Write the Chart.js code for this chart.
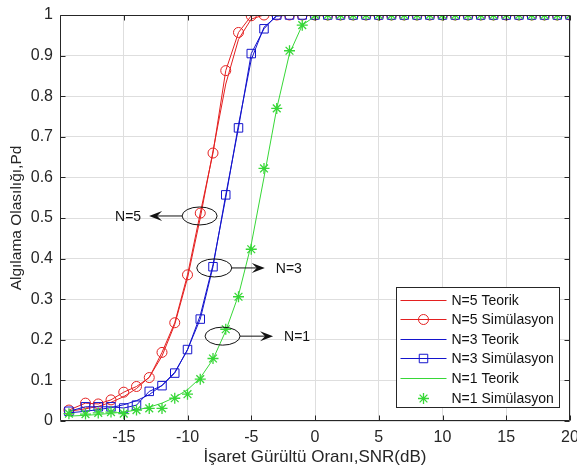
<!DOCTYPE html>
<html><head><meta charset="utf-8">
<script src="https://cdn.jsdelivr.net/npm/chart.js@4.4.1/dist/chart.umd.min.js"></script>
<style>html,body{margin:0;padding:0;background:#fff}#wrap{width:577px;height:470px;position:relative}</style>
</head><body><div id="wrap"><canvas id="c" width="577" height="470"></canvas></div>
<script>
// ---- data ----
const snr = [-19.3,-18,-17,-16,-15,-14,-13,-12,-11,-10,-9,-8,-7,-6,-5,-4,-3,-2,-1,0,1,2,3,4,5,6,7,8,9,10,11,12,13,14,15,16,17,18,19,20];
const n5Teorik = [0.024,0.030,0.036,0.046,0.060,0.080,0.108,0.160,0.238,0.352,0.500,0.665,0.830,0.940,0.990,1,1,1,1,1,1,1,1,1,1,1,1,1,1,1,1,1,1,1,1,1,1,1,1,1];
const n5Sim    = [0.027,0.044,0.042,0.052,0.071,0.085,0.107,0.169,0.242,0.360,0.512,0.660,0.863,0.957,0.998,1,1,1,1,1,1,1,1,1,1,1,1,1,1,1,1,1,1,1,1,1,1,1,1,1];
const n3Teorik = [0.020,0.024,0.028,0.033,0.040,0.050,0.065,0.088,0.120,0.175,0.260,0.385,0.550,0.730,0.890,0.970,0.997,1,1,1,1,1,1,1,1,1,1,1,1,1,1,1,1,1,1,1,1,1,1,1];
const n3Sim    = [0.024,0.035,0.035,0.035,0.032,0.039,0.073,0.087,0.118,0.176,0.251,0.380,0.557,0.722,0.905,0.966,1,1,1,1,1,1,1,1,1,1,1,1,1,1,1,1,1,1,1,1,1,1,1,1];
const n1Teorik = [0.012,0.014,0.016,0.019,0.022,0.027,0.034,0.044,0.058,0.077,0.106,0.152,0.222,0.310,0.435,0.600,0.770,0.905,0.975,0.997,1,1,1,1,1,1,1,1,1,1,1,1,1,1,1,1,1,1,1,1];
const n1Sim    = [0.018,0.017,0.020,0.022,0.018,0.027,0.031,0.031,0.056,0.066,0.103,0.154,0.226,0.306,0.423,0.622,0.770,0.912,0.975,1,1,1,1,1,1,1,1,1,1,1,1,1,1,1,1,1,1,1,1,1];
const seriesLabels = ['N=5 Teorik','N=5 Simülasyon','N=3 Teorik','N=3 Simülasyon','N=1 Teorik','N=1 Simülasyon'];
const xTicks = [-15,-10,-5,0,5,10,15,20];
const yTicks = [0,0.1,0.2,0.3,0.4,0.5,0.6,0.7,0.8,0.9,1];
const yTickLabels = ['0','0.1','0.2','0.3','0.4','0.5','0.6','0.7','0.8','0.9','1'];
const xTitle = 'İşaret Gürültü Oranı,SNR(dB)';
const yTitle = 'Algılama Olasılığı,Pd';
// annotation callouts: label, anchor (data coords) of ellipse, arrow direction
const callouts = [
  {text:'N=5', x:-9.05, y:0.505, dir:-1},
  {text:'N=3', x:-7.9,  y:0.377, dir:1},
  {text:'N=1', x:-7.25, y:0.209, dir:1}
];

// ---- styles ----
const RED = 'rgb(228,32,32)', BLUE = 'rgb(20,20,205)', GREEN = 'rgb(55,215,55)';
const SERIES_COLORS = [RED, RED, BLUE, BLUE, GREEN, GREEN];
const AX = '#262626';
const FONT = "'Liberation Sans', Arial, Helvetica, sans-serif";

function pts(ys){ return snr.map((x,i)=>({x:x, y:ys[i]})); }

const datasets = [
  {label:seriesLabels[0], data:pts(n5Teorik), borderColor:RED, borderWidth:1, pointRadius:0, showLine:true, order:6},
  {label:seriesLabels[1], data:pts(n5Sim), borderColor:RED, borderWidth:1, pointStyle:'circle', pointRadius:5, pointBorderColor:RED, pointBackgroundColor:'rgba(0,0,0,0)', pointBorderWidth:1, showLine:true, order:5},
  {label:seriesLabels[2], data:pts(n3Teorik), borderColor:BLUE, borderWidth:1, pointRadius:0, showLine:true, order:4},
  {label:seriesLabels[3], data:pts(n3Sim), borderColor:BLUE, borderWidth:1, pointStyle:'rect', pointRadius:6, pointBorderColor:BLUE, pointBackgroundColor:'rgba(0,0,0,0)', pointBorderWidth:1, showLine:true, order:3},
  {label:seriesLabels[4], data:pts(n1Teorik), borderColor:GREEN, borderWidth:1, pointRadius:0, showLine:true, order:2},
  {label:seriesLabels[5], data:pts(n1Sim), borderColor:GREEN, borderWidth:1, pointStyle:'star', pointRadius:5.5, pointBorderColor:GREEN, pointBackgroundColor:GREEN, pointBorderWidth:1.3, showLine:false, order:1}
];

const framePlugin = {
  id:'frame',
  afterDatasetsDraw(chart){
    const {ctx, chartArea:a, scales:{x, y}} = chart;
    ctx.save();
    ctx.strokeStyle = AX; ctx.lineWidth = 1;
    const L = Math.round(a.left)+0.5, R = Math.round(a.right)-0.5, T = Math.round(a.top)+0.5, B = Math.round(a.bottom)-0.5;
    ctx.beginPath();
    ctx.rect(L, T, R-L, B-T);
    const tl = 5;
    xTicks.forEach(v=>{ const px = Math.round(x.getPixelForValue(v))+0.5; ctx.moveTo(px,B); ctx.lineTo(px,B-tl); ctx.moveTo(px,T); ctx.lineTo(px,T+tl); });
    yTicks.forEach(v=>{ const py = Math.round(y.getPixelForValue(v))+0.5; ctx.moveTo(L,py); ctx.lineTo(L+tl,py); ctx.moveTo(R,py); ctx.lineTo(R-tl,py); });
    ctx.stroke();

    // callouts
    ctx.strokeStyle = '#111'; ctx.fillStyle = '#111'; ctx.lineWidth = 1;
    ctx.font = '14px ' + FONT; ctx.textBaseline = 'middle';
    const rx = 17.5, ry = 9;
    callouts.forEach(c=>{
      const cx = x.getPixelForValue(c.x), cy = y.getPixelForValue(c.y);
      ctx.beginPath(); ctx.ellipse(cx, cy, rx, ry, 0, 0, Math.PI*2); ctx.stroke();
      const x0 = cx + c.dir*rx, x1 = x0 + c.dir*33;
      ctx.beginPath(); ctx.moveTo(x0, cy); ctx.lineTo(x1 - c.dir*6, cy); ctx.stroke();
      ctx.beginPath();
      ctx.moveTo(x1, cy);
      ctx.lineTo(x1 - c.dir*13, cy - 5);
      ctx.lineTo(x1 - c.dir*8, cy);
      ctx.lineTo(x1 - c.dir*13, cy + 5);
      ctx.closePath(); ctx.fill();
      if (c.dir < 0) { ctx.textAlign = 'right'; ctx.fillText(c.text, x1 - 8, cy + 1); }
      else { ctx.textAlign = 'left'; ctx.fillText(c.text, x1 + 11, cy + 1); }
    });

    // legend box
    const w = 163, h = 120;
    const lx = Math.round(a.right - 11 - w) + 0.5, ly = Math.round(a.bottom - 14 - h) + 0.5;
    ctx.fillStyle = '#fff'; ctx.fillRect(lx, ly, w, h);
    ctx.strokeStyle = AX; ctx.lineWidth = 1; ctx.strokeRect(lx, ly, w, h);
    ctx.font = '14px ' + FONT; ctx.textAlign = 'left';
    datasets.forEach((d,i)=>{
      const col = SERIES_COLORS[i];
      const ry2 = Math.round(ly + 12 + i*19.6) + 0.5;
      if (d.showLine) {
        ctx.strokeStyle = col; ctx.lineWidth = 1;
        ctx.beginPath(); ctx.moveTo(lx+4, ry2); ctx.lineTo(lx+50, ry2); ctx.stroke();
      }
      if (d.pointRadius > 0) {
        ctx.strokeStyle = col; ctx.fillStyle = d.pointBackgroundColor; ctx.lineWidth = d.pointBorderWidth;
        Chart.helpers.drawPoint(ctx, {pointStyle:d.pointStyle, radius:d.pointRadius, rotation:0, borderWidth:d.pointBorderWidth}, lx+27, ry2);
      }
      ctx.fillStyle = '#111';
      ctx.fillText(d.label, lx+55, ry2 + 1);
    });
    ctx.restore();
  }
};

new Chart(document.getElementById('c'), {
  type:'scatter',
  data:{datasets},
  options:{
    responsive:false, animation:false, devicePixelRatio:1,
    layout:{padding:{top:15, right:6, left:0, bottom:0}},
    plugins:{legend:{display:false}, tooltip:{enabled:false}},
    elements:{line:{tension:0}},
    scales:{
      x:{type:'linear', min:-20, max:20,
        afterBuildTicks:s=>{ s.ticks = xTicks.map(v=>({value:v})); },
        afterFit:s=>{ s.height = 49; s.paddingLeft = 0; s.paddingRight = 0; },
        grid:{color:'#dedede', drawTicks:false}, border:{display:false},
        ticks:{padding:7, color:AX, font:{family:FONT, size:16}, maxRotation:0, autoSkip:false, callback:v=>String(v)},
        title:{display:true, text:xTitle, color:AX, font:{family:FONT, size:17}, padding:{top:0, bottom:2}}
      },
      y:{type:'linear', min:0, max:1,
        afterBuildTicks:s=>{ s.ticks = yTicks.map(v=>({value:v})); },
        afterFit:s=>{ s.width = 60; s.paddingTop = 0; s.paddingBottom = 0; },
        grid:{color:'#dedede', drawTicks:false}, border:{display:false},
        ticks:{padding:7, color:AX, font:{family:FONT, size:16}, autoSkip:false, callback:(v,i)=>yTickLabels[i]},
        title:{display:true, text:yTitle, color:AX, font:{family:FONT, size:15.5}, padding:{top:7, bottom:0}}
      }
    }
  },
  plugins:[framePlugin]
});
</script></body></html>
